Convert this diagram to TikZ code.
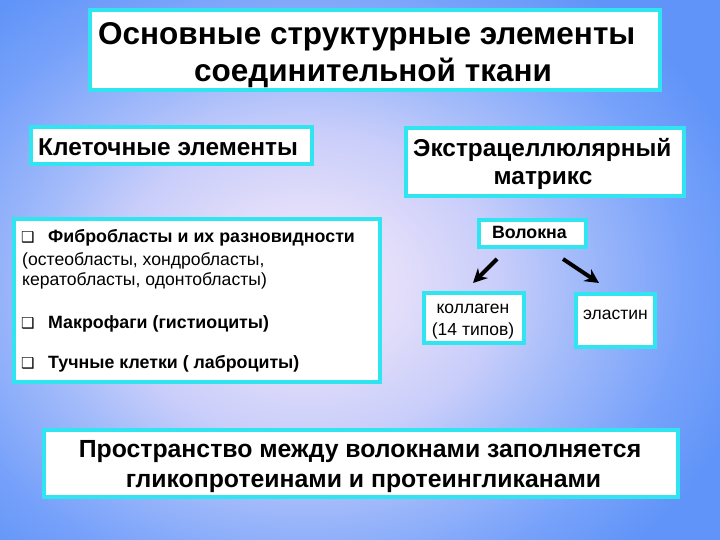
\documentclass[tikz,border=0pt]{standalone}
\usepackage{fontspec}
\setmainfont{Liberation Sans}
\newfontfamily\symfont{DejaVu Sans}
\usetikzlibrary{arrows.meta}
\definecolor{cyanb}{RGB}{48,228,240}
\definecolor{bg0}{RGB}{238,230,250}
\definecolor{bg1}{RGB}{226,221,250}
\definecolor{bg2}{RGB}{200,205,250}
\definecolor{bg3}{RGB}{165,188,250}
\definecolor{bg4}{RGB}{120,162,250}
\definecolor{bgout}{RGB}{96,148,248}
\pgfdeclareradialshading{bgshade}{\pgfpoint{0bp}{0bp}}{color(0bp)=(bg0); color(3.5bp)=(bg1); color(7bp)=(bg2); color(9.5bp)=(bg3); color(13.5bp)=(bg4); color(16.5bp)=(bgout); color(50bp)=(bgout)}
\begin{document}
\begin{tikzpicture}[x=1pt,y=-1pt,
  box/.style={draw=cyanb, line width=4.5pt, fill=white},
  sbox/.style={draw=cyanb, line width=4pt, fill=white},
  arr/.style={line width=4pt, -{Stealth[length=14pt,width=14pt]}},
  ltext/.style={anchor=base west, inner sep=0, font=\fontsize{17.6}{20}\selectfont},
  btext/.style={anchor=base west, inner sep=0, font=\fontsize{17.8}{20}\selectfont\bfseries},
  bullet/.style={anchor=base west, inner sep=0, font=\symfont\fontsize{15}{15}\selectfont},
  ttl/.style={inner sep=0, font=\fontsize{31.5}{37}\selectfont\bfseries},
  big/.style={inner sep=0, font=\fontsize{24.4}{28}\selectfont\bfseries},
  small/.style={anchor=base, inner sep=0, font=\fontsize{17.5}{20}\selectfont}]
\useasboundingbox (0,0) rectangle (720,540);
\begin{scope}
\clip (0,0) rectangle (720,540);
\fill[bgout] (0,0) rectangle (720,540);
\shade[shading=bgshade] (305,285) ellipse [x radius=700, y radius=560];
\end{scope}
% title
\draw[box] (90,10) rectangle (660,90);
\node[ttl, anchor=base west] (title1) at (98,45) {Основные структурные элементы};
\node[ttl, anchor=base] (title2) at (373,82) {соединительной ткани};
% cell elements
\draw[box] (31,127) rectangle (312,164);
\node[big, anchor=base west] (cell) at (38,156) {Клеточные элементы};
% matrix
\draw[box] (406,128) rectangle (684,196);
\node[big, anchor=base west] (matrix1) at (413,157) {Экстрацеллюлярный};
\node[big, anchor=base] (matrix2) at (543,185) {матрикс};
% list box
\draw[box] (14,219) rectangle (380,382);
\node[bullet] (b1) at (21,242) {❑};
\node[btext] (l1) at (48,242) {Фибробласты и их разновидности};
\node[ltext] (l2) at (22,265) {(остеобласты, хондробласты,};
\node[ltext] (l3) at (22,285) {кератобласты, одонтобласты)};
\node[bullet] (b2) at (21,328) {❑};
\node[btext] (l4) at (48,328) {Макрофаги (гистиоциты)};
\node[bullet] (b3) at (21,368) {❑};
\node[btext] (l5) at (48,368) {Тучные клетки ( лаброциты)};
% fibres
\draw[sbox] (479,220) rectangle (586,247);
\node[small, font=\fontsize{17.8}{20}\selectfont\bfseries] (fib) at (529.5,239) {Волокна};
\draw[sbox] (424,293) rectangle (524,343);
\node[small] (coll) at (473,313) {коллаген};
\node[small] (coll2) at (473,335) {(14 типов)};
\draw[sbox] (576,294) rectangle (655,347);
\node[small] (elas) at (615.5,319) {эластин};
\coordinate (a1s) at (497,259);
\coordinate (a1e) at (473,283);
\coordinate (a2s) at (563,259);
\coordinate (a2e) at (599,283);
\draw[arr] (a1s) -- (a1e);
\draw[arr] (a2s) -- (a2e);
% bottom
\draw[box] (44,430) rectangle (678,497);
\node[big, font=\fontsize{24.8}{30}\selectfont\bfseries, anchor=base] (bottom1) at (360,457) {Пространство между волокнами заполняется};
\node[big, font=\fontsize{24.8}{30}\selectfont\bfseries, anchor=base] (bottom2) at (363.5,487) {гликопротеинами и протеингликанами};
\end{tikzpicture}
\end{document}
